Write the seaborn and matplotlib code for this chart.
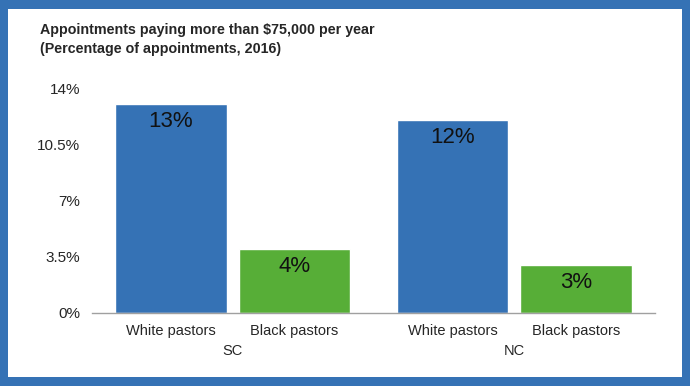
import pandas as pd
import matplotlib.pyplot as plt
import seaborn as sns
from matplotlib.patches import Rectangle

# Data
states = ["SC", "SC", "NC", "NC"]
groups = ["White pastors", "Black pastors", "White pastors", "Black pastors"]
values = [13.0, 4.0, 12.0, 3.0]
value_labels = ["13%", "4%", "12%", "3%"]
y_ticks = [0, 3.5, 7, 10.5, 14]
y_tick_labels = ["0%", "3.5%", "7%", "10.5%", "14%"]

df = pd.DataFrame({"state": states, "group": groups, "value": values})

blue = "#3572b5"
green = "#57ae37"

sns.set_style("white")
plt.rcParams["font.family"] = ["Liberation Sans", "DejaVu Sans"]

fig = plt.figure(figsize=(6.9, 3.86), dpi=100)
fig.patch.set_facecolor(blue)
# white card inside the blue frame
fig.patches.append(Rectangle((8 / 690, 9 / 386), 674 / 690, 368 / 386,
                             transform=fig.transFigure, facecolor="white",
                             edgecolor="none", zorder=-10))

ax = fig.add_axes([92 / 690, 1 - 313 / 386, (655 - 92) / 690, (313 - 88) / 386])
ax.set_facecolor("none")

sns.barplot(data=df, x="state", y="value", hue="group",
            palette=[blue, green], width=0.877, gap=0.097,
            saturation=1, legend=False, ax=ax)

ax.set_ylim(0, 14)
ax.set_xlim(-0.5, 1.5)
ax.set_yticks(y_ticks)
ax.set_yticklabels(y_tick_labels, fontsize=11)

# bars sorted left to right match df rows
bars = sorted(ax.patches, key=lambda p: p.get_x())
centers = [b.get_x() + b.get_width() / 2 for b in bars]
for c, v, t in zip(centers, values, value_labels):
    ax.annotate(t, (c, v), xytext=(0, -5), textcoords="offset points",
                ha="center", va="top", fontsize=16, color="#111111")

ax.set_xticks(centers)
ax.set_xticklabels(groups, fontsize=10.5)
ax.tick_params(axis="x", length=0, pad=8)
ax.tick_params(axis="y", length=0, pad=8.5)

for x, s in zip([0, 1], ["SC", "NC"]):
    ax.annotate(s, (x, 0), xytext=(0, -22), textcoords="offset points",
                xycoords=("data", "axes fraction"), ha="center", va="top", fontsize=10.5)

for side in ["top", "right", "left"]:
    ax.spines[side].set_visible(False)
ax.spines["bottom"].set_color("#a0a0a0")
ax.spines["bottom"].set_linewidth(1)
ax.set_xlabel("")
ax.set_ylabel("")

fig.text(40 / 690, 1 - 23 / 386,
         "Appointments paying more than $75,000 per year\n(Percentage of appointments, 2016)",
         ha="left", va="top", fontsize=10.3, fontweight="bold", linespacing=1.5)

fig.savefig("out.png", dpi=100, facecolor=fig.get_facecolor())
